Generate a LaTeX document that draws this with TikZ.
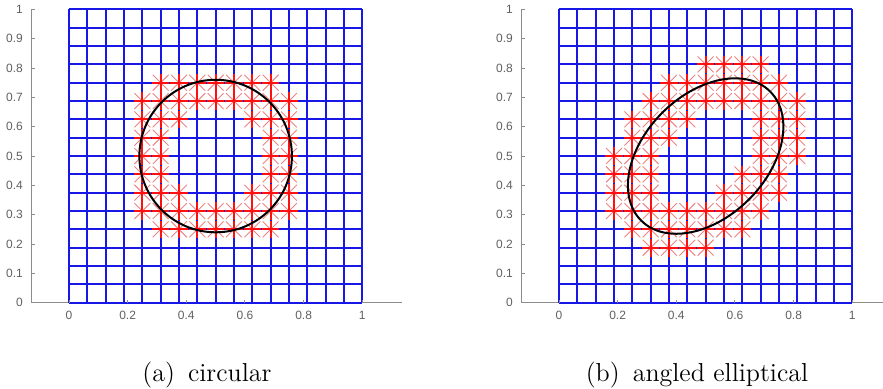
\documentclass[tikz,border=0pt]{standalone}
\usepackage{fontspec}
\newfontfamily\achsenschrift{Liberation Sans}
\usepackage{xcolor}
\definecolor{GitterBlau}{HTML}{1818E6}
\definecolor{AchsenGrau}{HTML}{8C8C8C}
\definecolor{TickText}{HTML}{606060}
\definecolor{SternRot}{HTML}{FF1010}
\definecolor{SternRosa}{HTML}{EC8484}

\begin{document}
\begin{tikzpicture}[x=0.5pt, y=-0.5pt]

  % Bildrahmen (883 x 389 px)
  \clip (0,0) rectangle (883,389);

  % Makro fuer ein Achsenfeld mit Gitter (16 x 16 Zellen)
  % Parameter: 1=Kurzname fuer die Beschriftungsknoten
  \def\gitterfeld#1{
    % Achsen
    \draw[AchsenGrau, line width=0.5pt] (-0.127,1) -- (-0.127,0) -- (1.134,0);
    % Gitterlinien
    \foreach \k in {0,...,16} {
      \draw[GitterBlau, line width=0.9pt] (\k/16,0) -- (\k/16,1);
      \draw[GitterBlau, line width=0.9pt] (0,\k/16) -- (1,\k/16);
    }
    % Ticks und Beschriftung x
    \foreach \x [count=\n] in {0,0.2,0.4,0.6,0.8,1} {
      \draw[AchsenGrau, line width=0.5pt] (\x,0) -- (\x,0.01);
      \node[text=TickText, font=\achsenschrift\fontsize{6}{7}\selectfont] (#1-x\n) at (\x,-0.044) {\x};
    }
    % Ticks und Beschriftung y
    \foreach \y [count=\n] in {0,0.1,0.2,0.3,0.4,0.5,0.6,0.7,0.8,0.9,1} {
      \draw[AchsenGrau, line width=0.5pt] (-0.127,\y) -- (-0.117,\y);
      \node[anchor=east, inner xsep=0pt, text=TickText, font=\achsenschrift\fontsize{6}{7}\selectfont] (#1-y\n) at (-0.156,\y) {\y};
    }
  }

  % Makro fuer einen Stern-Marker (Plus und Kreuz) am Gitterknoten
  % Parameter: 1=i, 2=j (Knoten i/16, j/16)
  \def\stern#1#2{
    \draw[SternRosa, line width=0.45pt] (#1/16,#2/16) +(-0.027,-0.027) -- +(0.027,0.027) +(-0.027,0.027) -- +(0.027,-0.027);
    \draw[SternRot, line width=0.9pt] (#1/16,#2/16) +(-0.03,0) -- +(0.03,0) +(0,-0.03) -- +(0,0.03);
  }

  % Teilbild (a): Kreis
  \begin{scope}[shift={(69,302.7)}, x=146.65pt, y=146.65pt]
    \gitterfeld{a}
    \foreach \j/\is in {12/{5,6,7,8,9,10,11}, 11/{4,5,6,7,8,9,10,11,12}, 10/{4,5,6,10,11,12},
                        9/{4,5,11,12}, 8/{4,5,11,12}, 7/{4,5,11,12}, 6/{4,5,6,10,11,12},
                        5/{4,5,6,7,8,9,10,11,12}, 4/{5,6,7,8,9,10,11}} {
      \foreach \i in \is {\stern{\i}{\j}}
    }
    \draw[black, line width=1pt] (0.5,0.5) circle[radius=0.26];
  \end{scope}

  % Teilbild (b): schraege Ellipse
  \begin{scope}[shift={(559,302.7)}, x=146.65pt, y=146.65pt]
    \gitterfeld{b}
    \foreach \j/\is in {13/{8,9,10,11}, 12/{6,7,8,9,10,11,12}, 11/{5,6,7,8,9,10,11,12,13},
                        10/{4,5,6,7,11,12,13}, 9/{4,5,6,11,12,13}, 8/{3,4,5,11,12,13},
                        7/{3,4,5,10,11,12}, 6/{3,4,5,9,10,11,12}, 5/{3,4,5,6,7,8,9,10,11},
                        4/{4,5,6,7,8,9,10}, 3/{5,6,7,8}} {
      \foreach \i in \is {\stern{\i}{\j}}
    }
    \draw[black, line width=1pt, rotate around={45:(0.5,0.5)}] (0.5,0.5) ellipse[x radius=0.311, y radius=0.209];
  \end{scope}

  % Unterschriften
  \node[anchor=base, inner sep=0pt, font=\fontsize{13}{15}\selectfont] (cap-a) at (207,381.5) {(a)\hskip0.5em circular};
  \node[anchor=base, inner sep=0pt, font=\fontsize{13}{15}\selectfont] (cap-b) at (697,381.5) {(b)\hskip0.5em angled elliptical};

\end{tikzpicture}
\end{document}
